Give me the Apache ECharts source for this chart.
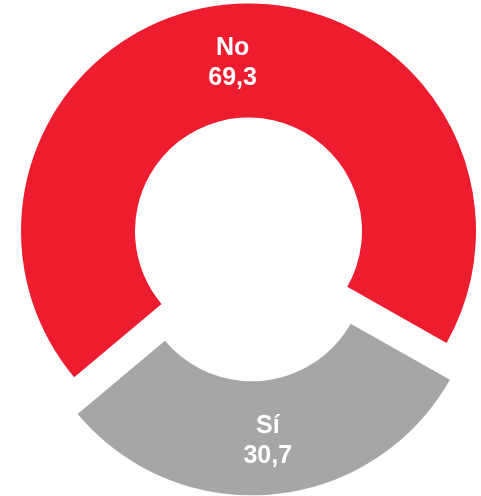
<!DOCTYPE html>
<html>
<head>
<meta charset="utf-8">
<script src="https://cdn.jsdelivr.net/npm/echarts@6/dist/echarts.min.js"></script>
<style>
html,body{margin:0;padding:0;background:#fff;}
#chart{width:481px;height:496px;}
</style>
</head>
<body>
<div id="chart"></div>
<script>
var categories = ['No', 'Sí'];
var values = [69.3, 30.7];

var colors = ['#ed1c2e', '#a6a6a6'];
var selectedFlags = [false, true];
var labelOffsets = [[0, 5], [0, 0]];

var chart = echarts.init(document.getElementById('chart'), null, {renderer: 'canvas'});
var data = categories.map(function (c, i) {
  return {
    name: c,
    value: values[i],
    selected: selectedFlags[i],
    itemStyle: {color: colors[i]},
    label: {offset: labelOffsets[i]}
  };
});
chart.setOption({
  animation: false,
  backgroundColor: '#ffffff',
  series: [{
    type: 'pie',
    center: [248.5, 231],
    radius: [113.5, 227.5],
    startAngle: 220,
    clockwise: true,
    selectedMode: 'single',
    selectedOffset: 37,
    avoidLabelOverlap: false,
    emphasis: {disabled: true},
    label: {
      show: true,
      position: 'inside',
      color: '#ffffff',
      fontFamily: 'Liberation Sans, Arial, sans-serif',
      fontWeight: 'bold',
      fontSize: 25,
      lineHeight: 30,
      align: 'center',
      formatter: function (p) {
        return p.name + '\n' + p.value.toFixed(1).replace('.', ',');
      }
    },
    labelLine: {show: false},
    data: data
  }]
});
</script>
</body>
</html>
